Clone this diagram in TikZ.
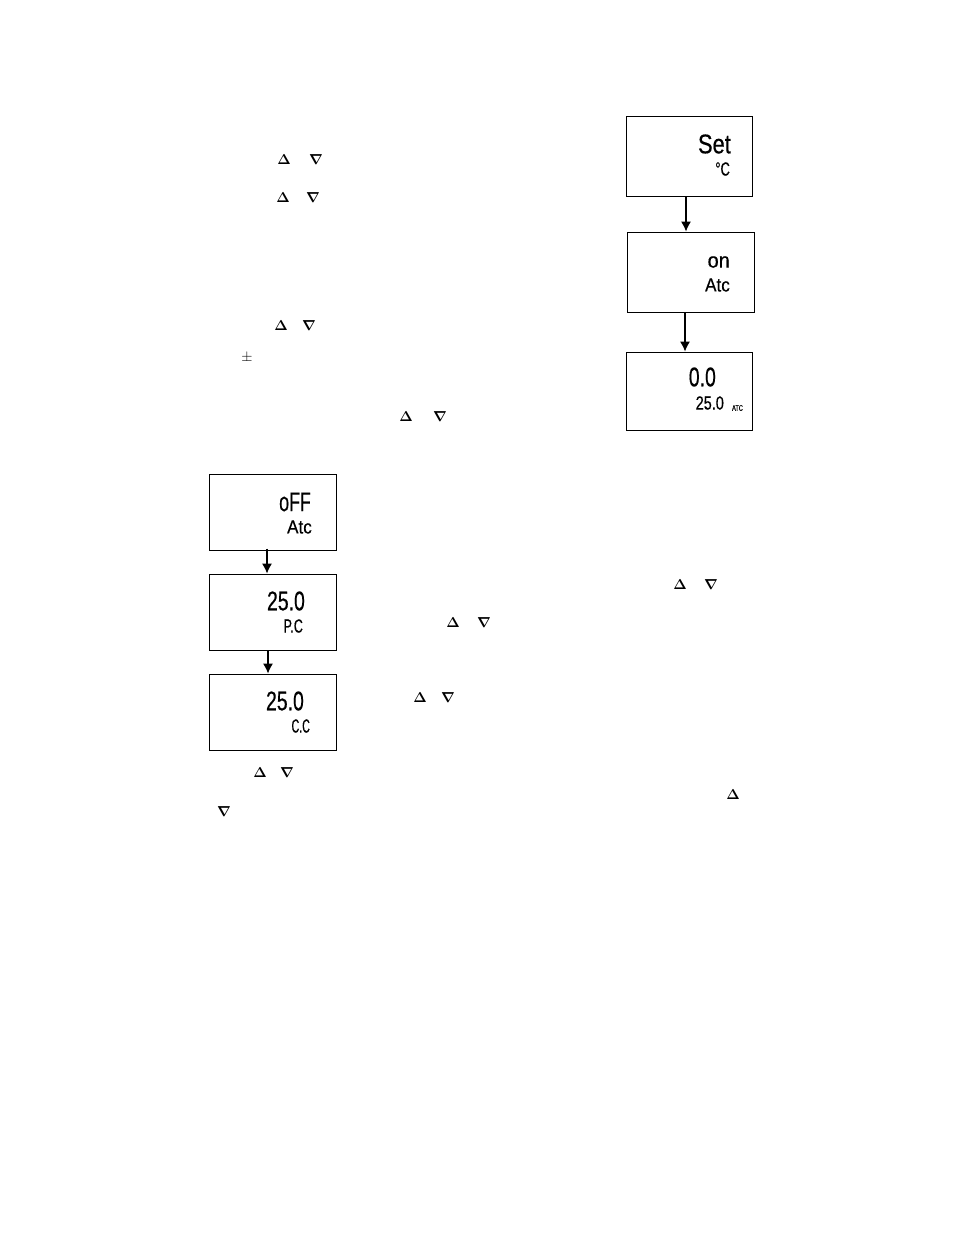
\documentclass[tikz,border=0pt]{standalone}
\usepackage{fontspec}
\usepackage{amsmath}
\usepackage{amssymb}
\usetikzlibrary{arrows.meta}
\setmainfont{Liberation Sans}
\newfontfamily\lcdfont[FakeBold=0.5]{Liberation Sans}

\begin{document}
\begin{tikzpicture}[x=1pt,y=-1pt]
% Display style
\tikzset{
    display/.style={draw,line width=1pt,fill=white,inner sep=0pt,minimum width=#1,minimum height=80pt},
    display/.default=127pt,
    bigread/.style={anchor=east,inner sep=0pt,font=\lcdfont\fontsize{27}{27}\selectfont},
    smallread/.style={anchor=east,inner sep=0pt,font=\lcdfont\fontsize{19}{19}\selectfont},
    tinyread/.style={anchor=east,inner sep=0pt,xscale=0.7,font=\lcdfont\fontsize{8}{8}\selectfont},
    keysign/.style={inner sep=0pt,yshift=-1pt,font=\fontsize{14}{14}\selectfont},
    flow/.style={-{Latex[length=10pt,width=10pt]},line width=1.1pt}
}
\useasboundingbox (0,0) rectangle (954,1235);

% Right hand displays
\node[display=126pt] (Setbox) at (689,156){};
\node[display=127pt] (Onbox) at (691,272){};
\node[display=126pt,minimum height=78pt] (Zerobox) at (689.5,391){};

\node[bigread,xscale=0.81] (Setread) at (731,144){Set};
\node[smallread,xscale=0.68] (Setunit) at (730,169){°C};
\node[bigread,xscale=0.95,font=\lcdfont\fontsize{21}{21}\selectfont] (Onread) at (730,262){on};
\node[smallread,xscale=0.9] (Onunit) at (730,285){Atc};
\node[bigread,xscale=0.72] (Zeroread) at (716,377){0.0};
\node[smallread,xscale=0.76] (Zerotemp) at (724,403){25.0};
\node[tinyread] (Zerounit) at (743,408){ATC};

% Left hand displays
\node[display,minimum height=76pt] (Offbox) at (272.5,512){};
\node[display,minimum height=76pt] (Pcbox) at (272.5,612){};
\node[display,minimum height=76pt] (Ccbox) at (272.5,712){};

\node[bigread,xscale=0.66] (Offread) at (311,502){oFF};
\node[smallread,xscale=0.9] (Offunit) at (312,527){Atc};
\node[bigread,xscale=0.72] (Pcread) at (305,601){25.0};
\node[smallread,xscale=0.66] (Pcunit) at (303,626){P.C};
\node[bigread,xscale=0.72] (Ccread) at (304,701){25.0};
\node[smallread,xscale=0.56] (Ccunit) at (310,726){C.C};

% Key signs
\node[keysign] (Upa) at (284,159){$\boldsymbol{\Delta}$};
\node[keysign] (Downa) at (316,159){$\boldsymbol{\nabla}$};
\node[keysign] (Upb) at (283,197){$\boldsymbol{\Delta}$};
\node[keysign] (Downb) at (313,197){$\boldsymbol{\nabla}$};
\node[keysign] (Upc) at (281,325){$\boldsymbol{\Delta}$};
\node[keysign] (Downc) at (309,325){$\boldsymbol{\nabla}$};
\node[keysign] (Plusminus) at (247,357){$\pm$};
\node[keysign] (Upd) at (406,416){$\boldsymbol{\Delta}$};
\node[keysign] (Downd) at (440,416){$\boldsymbol{\nabla}$};
\node[keysign] (Upe) at (680,584){$\boldsymbol{\Delta}$};
\node[keysign] (Downe) at (711,584){$\boldsymbol{\nabla}$};
\node[keysign] (Upf) at (453,622){$\boldsymbol{\Delta}$};
\node[keysign] (Downf) at (484,622){$\boldsymbol{\nabla}$};
\node[keysign] (Upg) at (420,697){$\boldsymbol{\Delta}$};
\node[keysign] (Downg) at (448,697){$\boldsymbol{\nabla}$};
\node[keysign] (Uph) at (260,772){$\boldsymbol{\Delta}$};
\node[keysign] (Downh) at (287,772){$\boldsymbol{\nabla}$};
\node[keysign] (Upi) at (733,794){$\boldsymbol{\Delta}$};
\node[keysign] (Downi) at (224,811){$\boldsymbol{\nabla}$};

% Connection
\draw[flow] ([xshift=-3pt]Setbox.south) -- ([xshift=-5pt]Onbox.north);
\draw[flow] ([xshift=-6pt]Onbox.south) -- ([xshift=-4.5pt]Zerobox.north);
\draw[flow] ([xshift=-5.5pt,yshift=2pt]Offbox.south) -- ([xshift=-5.5pt]Pcbox.north);
\draw[flow] ([xshift=-4.5pt]Pcbox.south) -- ([xshift=-4.5pt]Ccbox.north);
\end{tikzpicture}
\end{document}
